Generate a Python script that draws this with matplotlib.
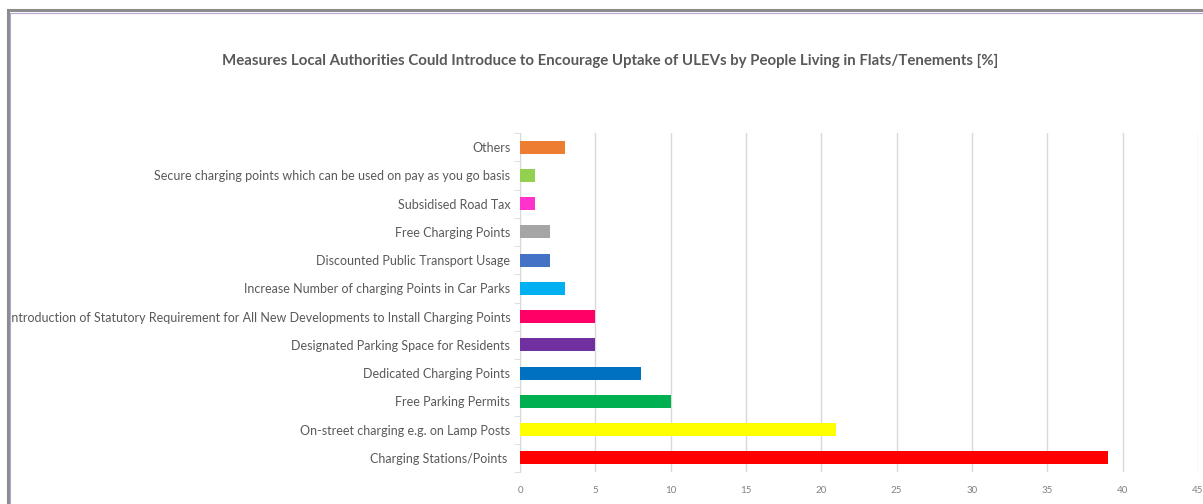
import matplotlib.pyplot as plt
from matplotlib.patches import Rectangle
from matplotlib.ticker import FixedLocator

plt.rcParams['font.family'] = ['Lato', 'DejaVu Sans']

# bottom to top
measures = [
    'Charging Stations/Points ',
    'On-street charging e.g. on Lamp Posts',
    'Free Parking Permits',
    'Dedicated Charging Points',
    'Designated Parking Space for Residents',
    'Introduction of Statutory Requirement for All New Developments to Install Charging Points',
    'Increase Number of charging Points in Car Parks',
    'Discounted Public Transport Usage',
    'Free Charging Points',
    'Subsidised Road Tax',
    'Secure charging points which can be used on pay as you go basis',
    'Others',
]
percent = [39, 21, 10, 8, 5, 5, 3, 2, 2, 1, 1, 3]
bar_colors = ['#FF0000', '#FFFF00', '#00B050', '#0070C0', '#7030A0', '#FF0066',
              '#00B0F0', '#4472C4', '#A5A5A5', '#FF33CC', '#92D050', '#ED7D31']
x_ticks = [0, 5, 10, 15, 20, 25, 30, 35, 40, 45]

fig = plt.figure(figsize=(12.03, 5.04), dpi=100)

# chart frame (cropped at the right and bottom)
fig.patches.append(Rectangle((8 / 1203, -0.1), 1.2, (504 - 10) / 504 + 0.1,
                             transform=fig.transFigure, fill=False,
                             edgecolor='#8c8c8c', linewidth=2.2))
fig.patches.append(Rectangle((10 / 1203, -0.1), 1.2, (504 - 12.5) / 504 + 0.1,
                             transform=fig.transFigure, fill=False,
                             edgecolor='#b9a3d6', linewidth=0.8))

ax = fig.add_axes([520 / 1203, 32 / 504, 678 / 1203, 339 / 504])
ypos = list(range(len(measures)))
ax.barh(ypos, percent, height=0.46, color=bar_colors, zorder=3)

ax.set_xlim(0, 45)
ax.set_ylim(-0.5, len(measures) - 0.5)
ax.set_xticks(x_ticks)
ax.set_yticks(ypos)
ax.set_yticklabels(measures)
ax.yaxis.set_minor_locator(FixedLocator([i - 0.5 for i in range(len(measures) + 1)]))

ax.grid(axis='x', color='#d9d9d9', linewidth=1, zorder=0)
for s in ['top', 'right', 'bottom']:
    ax.spines[s].set_visible(False)
ax.spines['left'].set_color('#d9d9d9')
ax.tick_params(axis='y', which='major', length=0, pad=7, labelsize=9.0, labelcolor='#595959')
ax.tick_params(axis='y', which='minor', length=4, color='#d9d9d9')
ax.tick_params(axis='x', length=0, pad=10, labelsize=7, labelcolor='#808080')

fig.text(610 / 1203, 1 - 61 / 504, 'Measures Local Authorities Could Introduce to Encourage Uptake of ULEVs by People Living in Flats/Tenements [%]',
         ha='center', va='center', fontsize=10.8, fontweight='bold', color='#595959')

fig.savefig('out.png', dpi=100)
